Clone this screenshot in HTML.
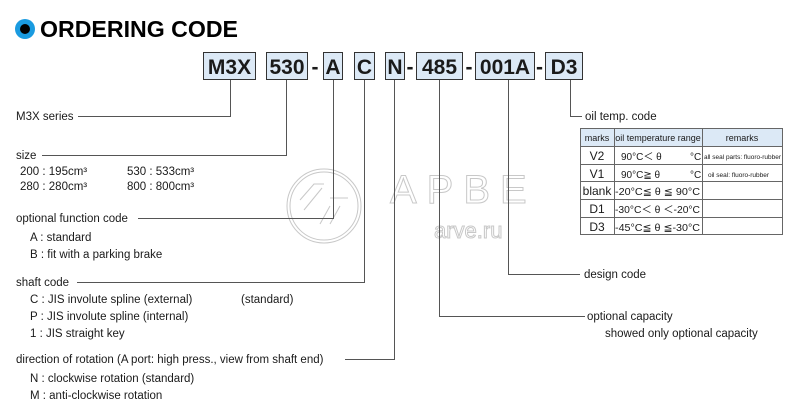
<!DOCTYPE html>
<html><head><meta charset="utf-8"><style>
html,body{margin:0;padding:0;background:#fff;width:800px;height:414px;overflow:hidden}
svg{display:block}
text{font-family:"Liberation Sans",Arial,sans-serif;fill:#1a1a1a}
text.wm{fill:none;stroke:#c8c8c8;stroke-width:1}
</style></head><body>
<svg width="800" height="414" viewBox="0 0 800 414" xmlns="http://www.w3.org/2000/svg">
<!-- title -->
<circle cx="25" cy="29" r="10" fill="#1a9be0"/>
<circle cx="25" cy="29" r="5" fill="#000"/>
<text x="40" y="37" font-size="23" font-weight="bold" style="fill:#000" textLength="198" lengthAdjust="spacingAndGlyphs">ORDERING CODE</text>

<!-- watermark -->
<g fill="none" stroke="#c8c8c8" stroke-width="1">
<circle cx="324" cy="206" r="37"/>
<circle cx="324" cy="206" r="34"/>
<path d="M300 200 l14 -16 h10 M304 210 l18 -22 M330 198 h18 M330 206 l-10 18 M340 206 l-10 18"/>
</g>
<text class="wm" x="390" y="203" font-size="40" letter-spacing="10">APBE</text>
<text class="wm" x="434" y="238" font-size="22">arve.ru</text>

<!-- code boxes -->
<g fill="#dce9f6" stroke="#333" stroke-width="1">
<rect x="203.5" y="52.5" width="52" height="27"/>
<rect x="266.5" y="52.5" width="41" height="27"/>
<rect x="323.5" y="52.5" width="19" height="27"/>
<rect x="354.5" y="52.5" width="20" height="27"/>
<rect x="385.5" y="52.5" width="19" height="27"/>
<rect x="416.5" y="52.5" width="46" height="27"/>
<rect x="475.5" y="52.5" width="59" height="27"/>
<rect x="545.5" y="52.5" width="37" height="27"/>
</g>
<g font-size="21" font-weight="bold" text-anchor="middle">
<text x="229.5" y="74">M3X</text>
<text x="287" y="74">530</text>
<text x="315" y="74">-</text>
<text x="333" y="74">A</text>
<text x="364.5" y="74">C</text>
<text x="395" y="74">N</text>
<text x="410" y="74">-</text>
<text x="439.5" y="74">485</text>
<text x="469" y="74">-</text>
<text x="505" y="74">001A</text>
<text x="539.5" y="74">-</text>
<text x="564" y="74">D3</text>
</g>

<!-- connectors -->
<g fill="none" stroke="#555" stroke-width="1">
<path d="M230.5 80 V116.5 H78"/>
<path d="M286.5 80 V155.5 H42"/>
<path d="M333.5 80 V218.5 H138"/>
<path d="M364.5 80 V282.5 H77"/>
<path d="M394.5 80 V359.5 H345"/>
<path d="M439.5 80 V316.5 H585"/>
<path d="M508.5 80 V274.5 H580"/>
<path d="M570.5 80 V116.5 H582"/>
</g>

<!-- left texts -->
<g font-size="11.5">
<text x="16" y="120">M3X series</text>
<text x="16" y="159">size</text>
<text x="20" y="175">200 : 195cm³</text>
<text x="127" y="175">530 : 533cm³</text>
<text x="20" y="190">280 : 280cm³</text>
<text x="127" y="190">800 : 800cm³</text>
<text x="16" y="222">optional function code</text>
<text x="30" y="241">A : standard</text>
<text x="30" y="258">B : fit with a parking brake</text>
<text x="16" y="286">shaft code</text>
<text x="30" y="303">C : JIS involute spline (external)</text>
<text x="241" y="303">(standard)</text>
<text x="30" y="320">P : JIS involute spline (internal)</text>
<text x="30" y="337">1  : JIS  straight key</text>
<text x="16" y="363">direction of rotation (A port: high press., view from shaft end)</text>
<text x="30" y="382">N : clockwise rotation (standard)</text>
<text x="30" y="399">M : anti-clockwise rotation</text>
</g>

<!-- right texts -->
<g font-size="11.5">
<text x="585" y="120">oil temp. code</text>
<text x="584" y="278">design code</text>
<text x="587" y="320">optional capacity</text>
<text x="605" y="337">showed only optional capacity</text>
</g>

<!-- table -->
<rect x="580.5" y="128.5" width="202" height="18" fill="#dce9f6"/>
<g fill="none" stroke="#666" stroke-width="1">
<rect x="580.5" y="128.5" width="202" height="106"/>
<path d="M614.5 128.5 V234.5 M702.5 128.5 V234.5"/>
<path d="M580.5 146.5 H782.5 M580.5 164.5 H782.5 M580.5 181.5 H782.5 M580.5 199.5 H782.5 M580.5 217.5 H782.5"/>
</g>
<g font-size="9">
<text x="597" y="141" text-anchor="middle">marks</text>
<text x="658" y="141" text-anchor="middle">oil temperature range</text>
<text x="742" y="141" text-anchor="middle">remarks</text>
</g>
<g font-size="12" text-anchor="middle">
<text x="597" y="160">V2</text>
<text x="597" y="178">V1</text>
<text x="597" y="195">blank</text>
<text x="597" y="213">D1</text>
<text x="597" y="231">D3</text>
</g>
<g font-size="10">
<text x="621" y="160">90°C＜ θ</text><text x="690" y="160">°C</text>
<text x="621" y="178">90°C≧ θ</text><text x="690" y="178">°C</text>
<text x="615" y="195" textLength="85" lengthAdjust="spacingAndGlyphs">-20°C≦ θ ≦  90°C</text>
<text x="615" y="213" textLength="85" lengthAdjust="spacingAndGlyphs">-30°C＜ θ ＜-20°C</text>
<text x="615" y="231" textLength="85" lengthAdjust="spacingAndGlyphs">-45°C≦ θ ≦-30°C</text>
</g>
<g font-size="6.5">
<text x="704" y="159" textLength="77" lengthAdjust="spacingAndGlyphs">all seal parts: fluoro-rubber</text>
<text x="708" y="177">oil seal: fluoro-rubber</text>
</g>
</svg>
</body></html>
